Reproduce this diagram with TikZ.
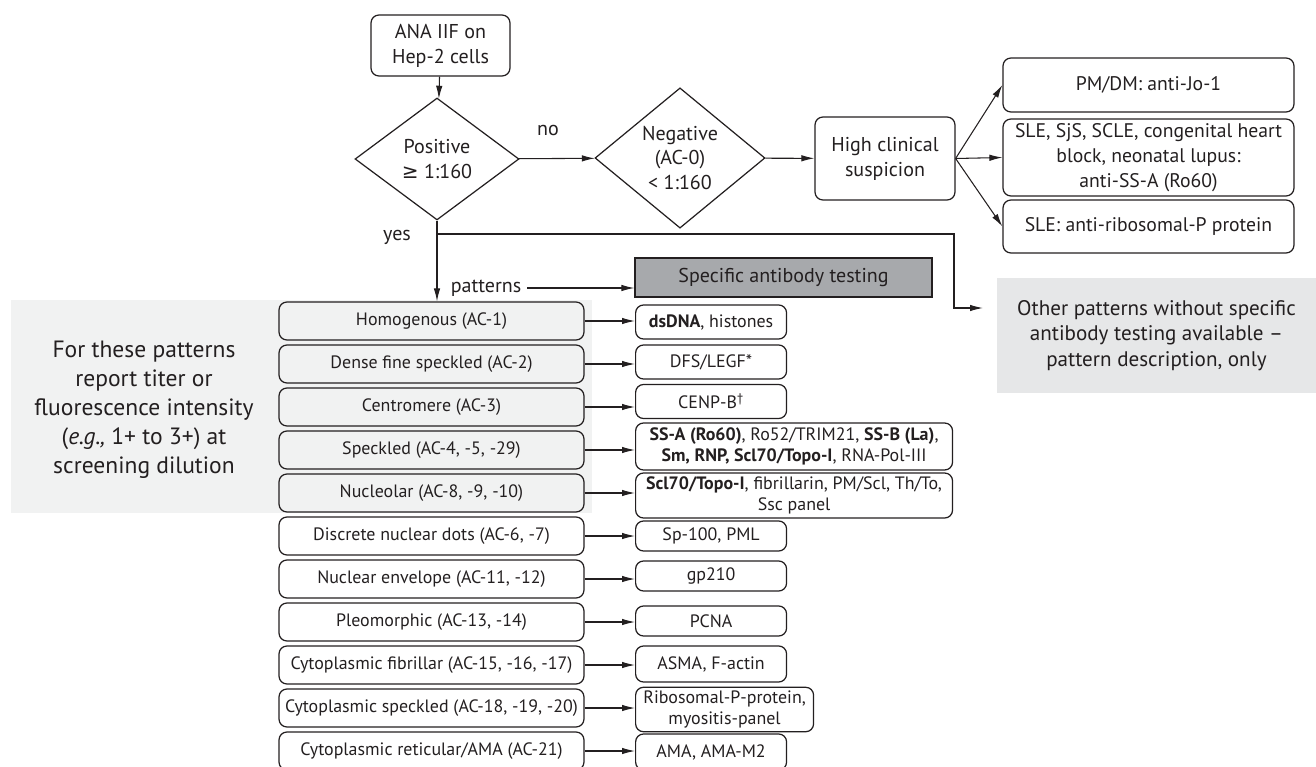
\documentclass[tikz,border=0pt]{standalone}
\usepackage{fontspec}
\setmainfont{PT Sans}
\newfontfamily\symfont{DejaVu Sans}
\definecolor{inkgray}{RGB}{35, 31, 32}
\definecolor{shadegray}{RGB}{241, 242, 242}
\definecolor{othergray}{RGB}{230, 231, 232}
\definecolor{specgray}{RGB}{167, 169, 172}
\usetikzlibrary{shapes.geometric, arrows.meta, positioning, calc}

\begin{document}
\begin{tikzpicture}[x=0.02cm, y=-0.02cm,
  box/.style={draw=inkgray, text=inkgray, rounded corners=4.5pt, line width=0.7pt, align=center, inner sep=2pt},
  decision/.style={draw=inkgray, text=inkgray, diamond, line width=0.7pt, align=center, inner sep=0pt},
  patbox/.style={box, minimum width=6.1cm, minimum height=0.76cm, font=\fontsize{10.2}{12}\selectfont},
  abbox/.style={box, anchor=west, minimum height=0.68cm, font=\fontsize{10.2}{12}\selectfont},
  arr/.style={draw=inkgray, line width=0.6pt, -{Latex[length=2.6mm, width=1.3mm]}},
  lbl/.style={text=inkgray, font=\fontsize{11.4}{14.2}\selectfont}]
  \useasboundingbox (0,0) rectangle (1316,767);

  % Shaded group
  \fill[shadegray] (11,300) rectangle (592,513);
  \node[lbl, align=center, font=\fontsize{13.4}{16.5}\selectfont] (report) at (144,410) {
    For these patterns\\
    report titer or\\
    fluorescence intensity\\
    (\textit{e.g.,} 1+ to 3+) at\\
    screening dilution
  };

  % Screening and decisions
  \node[box, font=\fontsize{11.4}{14.2}\selectfont, minimum width=2.78cm, minimum height=1.22cm] (ana) at (440.5,45.5) {ANA IIF on\\Hep-2 cells};
  \node[decision, font=\fontsize{11.4}{14.2}\selectfont, minimum width=3.28cm, minimum height=2.44cm] (pos) at (437,159) {Positive\\{\symfont ≥} 1:160};
  \node[decision, font=\fontsize{11.4}{14.2}\selectfont, minimum width=3.4cm, minimum height=2.56cm] (neg) at (680,158) {Negative\\(AC-0)\\< 1:160};
  \node[box, font=\fontsize{11.4}{14.2}\selectfont, minimum width=2.8cm, minimum height=1.66cm] (clin) at (885,158.5) {High clinical\\suspicion};

  \draw[arr] (ana) -- (pos);
  \draw[arr] (pos) -- (neg);
  \draw[arr] (neg) -- (clin);
  \node[lbl] (nolbl) at (548,130) {no};
  \node[lbl] (yeslbl) at (397,237) {yes};

  % High clinical suspicion
  \node[box, font=\fontsize{11.2}{14.2}\selectfont, minimum width=5.82cm, minimum height=1.08cm] (pmdm) at (1148.5,85) {PM/DM: anti-Jo-1};
  \node[box, font=\fontsize{11.2}{14.2}\selectfont, minimum width=5.82cm, minimum height=1.54cm] (sle) at (1148.5,157.5) {SLE, SjS, SCLE, congenital heart\\block, neonatal lupus:\\anti-SS-A (Ro60)};
  \node[box, font=\fontsize{11.2}{14.2}\selectfont, minimum width=5.82cm, minimum height=1.06cm] (ribo) at (1148.5,226.5) {SLE: anti-ribosomal-P protein};

  \draw[arr] (clin.east) -- (pmdm.west);
  \draw[arr] (clin.east) -- (sle.west);
  \draw[arr] (clin.east) -- (ribo.west);

  % Patterns
  \node[lbl] (patlbl) at (486,288) {patterns};
  \node[draw=inkgray, fill=specgray, text=inkgray, line width=0.7pt, font=\fontsize{11.4}{14.2}\selectfont, minimum width=5.94cm, minimum height=0.78cm] (spec) at (783.5,277.5) {Specific antibody testing};
  \draw[arr] (patlbl.east) -- (patlbl.east -| spec.west);

  \node[fill=othergray, text=inkgray, align=center, font=\fontsize{12}{14.6}\selectfont, minimum width=6.38cm, minimum height=2.3cm] (other) at (1156.5,335.5) {
    Other patterns without specific\\
    antibody testing available --\\
    pattern description, only
  };
  \coordinate (fork) at (437,234);
  \coordinate (otherin) at (983,308);
  \draw[arr] (fork) -- ++(517,0) |- (otherin);

  \node[patbox] (p1) at (431.5,321) {Homogenous (AC-1)};
  \node[patbox] (p2) at (431.5,364) {Dense fine speckled (AC-2)};
  \node[patbox] (p3) at (431.5,407) {Centromere (AC-3)};
  \node[patbox] (p4) at (431.5,450) {Speckled (AC-4, -5, -29)};
  \node[patbox] (p5) at (431.5,493) {Nucleolar (AC-8, -9, -10)};
  \node[patbox] (p6) at (431.5,536) {Discrete nuclear dots (AC-6, -7)};
  \node[patbox] (p7) at (431.5,579) {Nuclear envelope (AC-11, -12)};
  \node[patbox] (p8) at (431.5,622) {Pleomorphic (AC-13, -14)};
  \node[patbox] (p9) at (431.5,665) {Cytoplasmic fibrillar (AC-15, -16, -17)};
  \node[patbox] (p10) at (431.5,708) {Cytoplasmic speckled (AC-18, -19, -20)};
  \node[patbox] (p11) at (431.5,751) {Cytoplasmic reticular/AMA (AC-21)};

  \draw[arr] (pos.south) -- (pos.south |- p1.north);

  % Antibodies
  \node[abbox, minimum width=3.02cm] (a1) at (635,322) {\textbf{dsDNA}, histones};
  \node[abbox, minimum width=3.02cm] (a2) at (635,362) {DFS/LEGF*};
  \node[abbox, minimum width=3.02cm] (a3) at (635,401.5) {CENP-B\textsuperscript{†}};
  \node[abbox, minimum width=6.34cm, minimum height=0.94cm] (a4) at (635,446.5) {\textbf{SS-A (Ro60)}, Ro52/TRIM21, \textbf{SS-B (La)},\\\textbf{Sm, RNP, Scl70/Topo-I}, RNA-Pol-III};
  \node[abbox, minimum width=6.34cm, minimum height=0.9cm] (a5) at (635,495.5) {\textbf{Scl70/Topo-I}, fibrillarin, PM/Scl, Th/To,\\Ssc panel};
  \node[abbox, minimum width=3.02cm, minimum height=0.6cm] (a6) at (635,536) {Sp-100, PML};
  \node[abbox, minimum width=3.02cm, minimum height=0.6cm] (a7) at (635,576) {gp210};
  \node[abbox, minimum width=3.02cm, minimum height=0.6cm] (a8) at (635,621) {PCNA};
  \node[abbox, minimum width=3.02cm, minimum height=0.72cm] (a9) at (635,664) {ASMA, F-actin};
  \node[abbox, minimum width=3.56cm, minimum height=0.86cm] (a10) at (635,709.5) {Ribosomal-P-protein,\\myositis-panel};
  \node[abbox, minimum width=3.02cm, minimum height=0.72cm] (a11) at (635,752) {AMA, AMA-M2};

  \draw[arr] (p1.east) -- (p1.east -| a1.west);
  \draw[arr] (p2.east) -- (p2.east -| a2.west);
  \draw[arr] (p3.east) -- (p3.east -| a3.west);
  \draw[arr] (p4.east) -- (p4.east -| a4.west);
  \draw[arr] (p5.east) -- (p5.east -| a5.west);
  \draw[arr] (p6.east) -- (p6.east -| a6.west);
  \draw[arr] (p7.east) -- (p7.east -| a7.west);
  \draw[arr] (p8.east) -- (p8.east -| a8.west);
  \draw[arr] (p9.east) -- (p9.east -| a9.west);
  \draw[arr] (p10.east) -- (p10.east -| a10.west);
  \draw[arr] (p11.east) -- (p11.east -| a11.west);
\end{tikzpicture}
\end{document}
